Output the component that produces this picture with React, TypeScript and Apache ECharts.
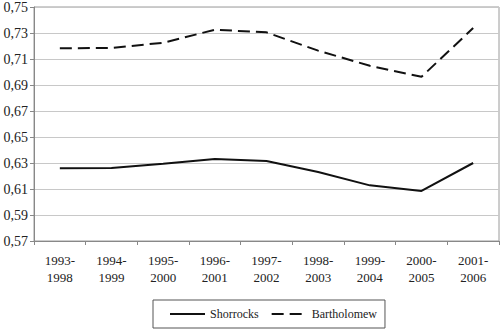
import React, { useEffect, useRef } from "react";
import * as echarts from "echarts";

const categories = [
  "1993-\n1998",
  "1994-\n1999",
  "1995-\n2000",
  "1996-\n2001",
  "1997-\n2002",
  "1998-\n2003",
  "1999-\n2004",
  "2000-\n2005",
  "2001-\n2006",
];
const shorrocks = [0.6259, 0.6262, 0.6295, 0.6331, 0.6315, 0.6231, 0.6128, 0.6085, 0.63];
const bartholomew = [0.7182, 0.7185, 0.7225, 0.7325, 0.7305, 0.7164, 0.7048, 0.6963, 0.7338];

const FONT = "'Times New Roman', 'Liberation Serif', serif";

export default function App() {
  const ref = useRef<HTMLDivElement>(null);
  useEffect(() => {
    if (!ref.current) return;
    const chart = echarts.init(ref.current, undefined, { renderer: "svg" });
    chart.setOption({
      animation: false,
      backgroundColor: "#ffffff",
      textStyle: { fontFamily: FONT },
      grid: {
        left: 34,
        right: 1,
        top: 6,
        bottom: 90,
        show: true,
        borderColor: "#9a9a9a",
        borderWidth: 1,
      },
      legend: {
        top: 300,
        left: 153,
        itemWidth: 35,
        itemHeight: 10,
        itemGap: 12,
        padding: [8, 8, 8, 16],
        borderColor: "#555555",
        borderWidth: 1,
        itemStyle: { opacity: 0 },
        textStyle: { fontFamily: FONT, fontSize: 12, color: "#222" },
        data: ["Shorrocks", "Bartholomew"],
      },
      xAxis: {
        type: "category",
        data: categories,
        boundaryGap: true,
        axisLine: { lineStyle: { color: "#888888" } },
        axisTick: { show: true, length: 4, lineStyle: { color: "#888888" } },
        axisLabel: {
          color: "#222",
          fontFamily: FONT,
          fontSize: 13,
          lineHeight: 17,
          margin: 11,
          interval: 0,
        },
        splitLine: { show: false },
      },
      yAxis: {
        type: "value",
        min: 0.57,
        max: 0.75,
        interval: 0.02,
        axisLine: { show: true, lineStyle: { color: "#888888" } },
        axisTick: { show: true, length: 4, lineStyle: { color: "#888888" } },
        axisLabel: {
          color: "#222",
          fontFamily: FONT,
          fontSize: 14,
          margin: 6,
          formatter: (v: number) => v.toFixed(2).replace(".", ","),
        },
        splitLine: { show: true, lineStyle: { color: "#c8c8c8", width: 1 } },
      },
      series: [
        {
          name: "Shorrocks",
          type: "line",
          data: shorrocks,
          showSymbol: false,
          symbol: "none",
          smooth: false,
          lineStyle: { color: "#111111", width: 2, type: "solid" },
          itemStyle: { color: "#111111" },
        },
        {
          name: "Bartholomew",
          type: "line",
          data: bartholomew,
          showSymbol: false,
          symbol: "none",
          smooth: false,
          lineStyle: { color: "#111111", width: 2, type: [12, 6] },
          itemStyle: { color: "#111111" },
        },
      ],
    });
    return () => chart.dispose();
  }, []);
  return (
    <div
      ref={ref}
      style={{ position: "fixed", left: 0, top: 0, width: 500, height: 331 }}
    />
  );
}
